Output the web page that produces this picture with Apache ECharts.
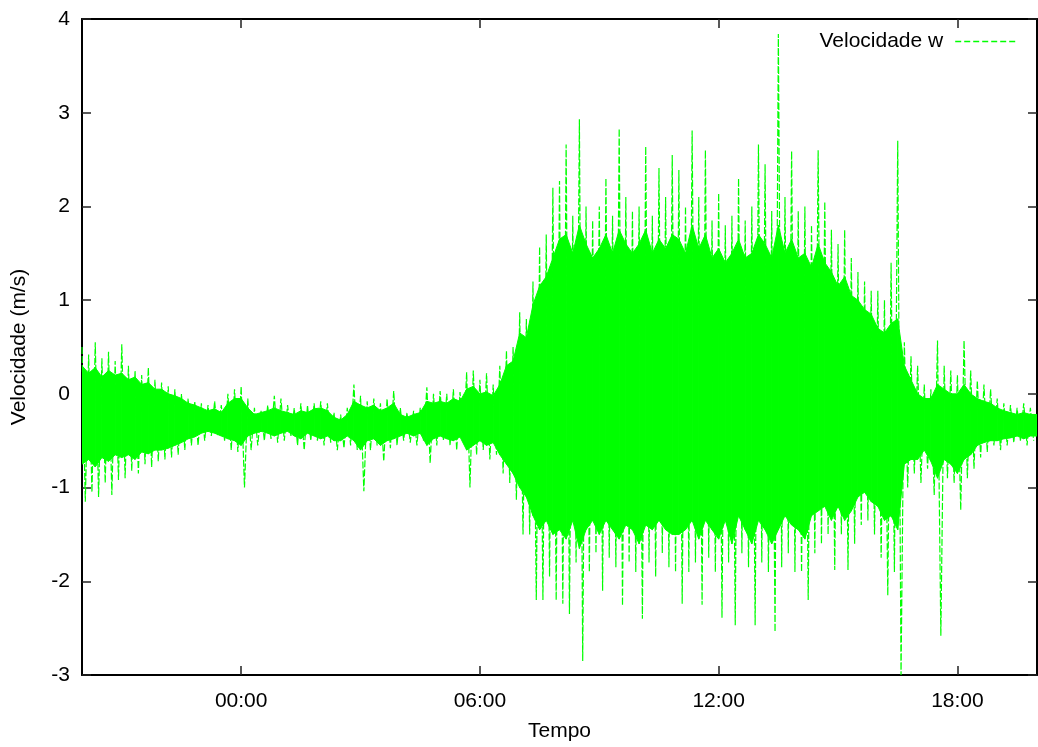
<!DOCTYPE html>
<html>
<head>
<meta charset="utf-8">
<script src="https://cdn.jsdelivr.net/npm/echarts@6/dist/echarts.min.js"></script>
<style>
  html, body { margin: 0; padding: 0; background: #fff; }
  #grafico { width: 1038px; height: 747px; }
</style>
</head>
<body>
<div id="grafico"></div>
<script>
// eixo x em horas desde o inicio da serie (20:00), um valor a cada 10 min
var duracao = 24;
var passo = 10 / 60;

// marcas do eixo x (horas depois do inicio)
var marcasHoras = [4, 10, 16, 22];
var rotulosX = ['00:00', '06:00', '12:00', '18:00'];

// faixa densa (nucleo) do sinal
var nucleoSup = [
  0.3, 0.22, 0.28, 0.18, 0.25, 0.2,
  0.22, 0.15, 0.18, 0.1, 0.12, 0.05,
  0.05, 0.0, -0.02, -0.05, -0.1, -0.12,
  -0.15, -0.18, -0.16, -0.2, -0.1, -0.05,
  -0.05, -0.15, -0.22, -0.2, -0.18, -0.15,
  -0.18, -0.2, -0.22, -0.18, -0.2, -0.16,
  -0.15, -0.18, -0.25, -0.28, -0.22, -0.08,
  -0.12, -0.15, -0.12, -0.18, -0.15, -0.1,
  -0.22, -0.25, -0.22, -0.2, -0.08, -0.1,
  -0.08, -0.1, -0.05, -0.08, 0.05, 0.08,
  0.0, 0.02, -0.02, 0.1, 0.3, 0.35,
  0.65, 0.6, 0.95, 1.15, 1.25, 1.45,
  1.65, 1.7, 1.5, 1.8, 1.6, 1.45,
  1.55, 1.7, 1.5, 1.75, 1.6, 1.5,
  1.6, 1.75, 1.5, 1.65, 1.55, 1.7,
  1.65, 1.5, 1.8, 1.55, 1.7, 1.45,
  1.55, 1.4, 1.5, 1.65, 1.45, 1.5,
  1.7, 1.6, 1.45, 1.8, 1.5, 1.65,
  1.45, 1.5, 1.35, 1.6, 1.4, 1.3,
  1.15, 1.25, 1.05, 1.0, 0.9, 0.85,
  0.7, 0.65, 0.75, 0.8, 0.3, 0.15,
  0.0, -0.05, -0.05, 0.1, 0.05, 0.0,
  0.0, 0.1, 0.0, -0.05, -0.08, -0.1,
  -0.15, -0.18, -0.2, -0.22, -0.2, -0.22];
var nucleoInf = [
  -0.75, -0.7, -0.78, -0.68, -0.72, -0.65,
  -0.68, -0.65, -0.7, -0.62, -0.64, -0.6,
  -0.6, -0.58, -0.55, -0.52, -0.48, -0.46,
  -0.42, -0.4, -0.42, -0.45, -0.48, -0.5,
  -0.55, -0.45, -0.42, -0.4, -0.42, -0.45,
  -0.42, -0.4, -0.45, -0.48, -0.42, -0.45,
  -0.48, -0.45, -0.5, -0.5, -0.45, -0.5,
  -0.6, -0.5, -0.48, -0.55, -0.5, -0.48,
  -0.45, -0.42, -0.45, -0.42, -0.55, -0.48,
  -0.45, -0.48, -0.5, -0.46, -0.6, -0.55,
  -0.5, -0.55, -0.52, -0.65, -0.75, -0.85,
  -1.0, -1.1, -1.3, -1.45, -1.35, -1.5,
  -1.45, -1.55, -1.35, -1.65, -1.45, -1.35,
  -1.5, -1.35, -1.45, -1.55, -1.4, -1.45,
  -1.6, -1.4, -1.45, -1.35, -1.45, -1.5,
  -1.5, -1.45, -1.35, -1.55, -1.35, -1.45,
  -1.55, -1.35, -1.6, -1.3, -1.45, -1.6,
  -1.35, -1.45, -1.6, -1.45, -1.3, -1.4,
  -1.45, -1.55, -1.3, -1.25, -1.2, -1.35,
  -1.2, -1.35, -1.25, -1.1, -1.05, -1.15,
  -1.2, -1.35, -1.3, -1.45, -0.75, -0.7,
  -0.7, -0.6, -0.72, -0.9, -0.7, -0.75,
  -0.85, -0.7, -0.65, -0.55, -0.52, -0.5,
  -0.5, -0.48, -0.47, -0.45, -0.48, -0.45];

// picos maximo e minimo
var picoSup = [
  0.5, 0.42, 0.55, 0.38, 0.45, 0.35,
  0.53, 0.3, 0.25, 0.2, 0.28, 0.15,
  0.12, 0.08, 0.05, 0.0, -0.05, -0.08,
  -0.1, -0.12, -0.08, -0.12, 0.0, 0.05,
  0.08, -0.05, -0.15, -0.18, -0.12, -0.02,
  -0.05, -0.12, -0.15, -0.1, -0.12, -0.1,
  -0.08, -0.1, -0.2, -0.22, -0.15, 0.1,
  -0.02, -0.08, -0.05, -0.1, -0.05, 0.03,
  -0.15, -0.2, -0.18, -0.15, 0.07, 0.0,
  0.03, 0.0, 0.05, 0.02, 0.23, 0.25,
  0.15, 0.22, 0.1, 0.3, 0.46, 0.5,
  0.87, 0.8, 1.2, 1.57, 1.7, 2.2,
  2.27, 2.66, 1.9, 2.93, 2.0, 1.85,
  2.0, 2.3, 1.9, 2.83, 2.1, 1.95,
  2.0, 2.64, 1.9, 2.41, 2.1, 2.55,
  2.39, 2.0, 2.81, 2.1, 2.6, 1.85,
  2.14, 1.8, 1.9, 2.3, 1.85, 2.0,
  2.66, 2.45, 1.95, 3.84, 2.1, 2.59,
  1.95, 2.0, 1.8, 2.6, 2.05, 1.75,
  1.6, 1.75, 1.45, 1.3, 1.2, 1.1,
  1.1, 1.0, 1.4, 2.7, 0.55, 0.4,
  0.3, 0.1, 0.05, 0.57, 0.3, 0.25,
  0.2, 0.57, 0.25, 0.14, 0.1, 0.05,
  -0.05, -0.1, -0.12, -0.15, -0.1, -0.15];
var picoInf = [
  -1.15, -1.05, -1.1, -0.95, -1.08, -0.92,
  -0.9, -0.82, -0.85, -0.75, -0.78, -0.72,
  -0.7, -0.68, -0.65, -0.6, -0.55, -0.55,
  -0.5, -0.45, -0.45, -0.5, -0.6, -0.62,
  -1.0, -0.6, -0.55, -0.5, -0.48, -0.52,
  -0.5, -0.45, -0.55, -0.6, -0.5, -0.5,
  -0.55, -0.52, -0.6, -0.58, -0.55, -0.6,
  -1.04, -0.6, -0.55, -0.72, -0.58, -0.55,
  -0.5, -0.52, -0.55, -0.5, -0.74, -0.55,
  -0.5, -0.55, -0.6, -0.52, -1.0, -0.65,
  -0.6, -0.7, -0.65, -0.85, -0.95, -1.13,
  -1.5, -1.5, -2.2, -2.2, -1.95, -2.2,
  -2.24, -2.35, -1.8, -2.85, -1.9, -1.7,
  -2.1, -1.75, -1.85, -2.26, -1.8, -1.9,
  -2.4, -1.8, -1.95, -1.7, -1.85, -1.9,
  -2.24, -1.9, -1.8, -2.25, -1.75, -1.9,
  -2.39, -1.8, -2.47, -1.7, -1.85, -2.47,
  -1.8, -1.9, -2.54, -1.85, -1.7, -1.9,
  -1.9, -2.2, -1.7, -1.6, -1.5, -1.88,
  -1.5, -1.88, -1.6, -1.4, -1.35, -1.5,
  -1.75, -2.15, -1.9, -3.0, -1.0, -0.85,
  -0.95, -0.8, -1.08, -2.58, -0.9, -0.95,
  -1.24, -0.9, -0.8, -0.68, -0.62, -0.55,
  -0.6, -0.55, -0.52, -0.5, -0.55, -0.5];

var verde = '#00ff00';
var fonte = "'Liberation Sans', Arial, Helvetica, sans-serif";

// faixa do nucleo: um trapezio por intervalo
var faixa = [];
for (var i = 0; i < nucleoSup.length; i++) {
  var k = Math.min(i + 1, nucleoSup.length - 1);
  var tFim = i + 1 < nucleoSup.length ? (i + 1) * passo : duracao;
  faixa.push([i * passo, nucleoSup[i], nucleoInf[i], tFim, nucleoSup[k], nucleoInf[k]]);
}
// sinal em zigue-zague entre os picos
var sinal = [];
for (var j = 0; j < picoSup.length; j++) {
  sinal.push([j * passo, picoSup[j]]);
  sinal.push([j * passo + passo / 2, picoInf[j]]);
}

function eixoX(pos) {
  return {
    type: 'value',
    position: pos,
    min: 0,
    max: duracao,
    axisLine: { show: true, onZero: false, lineStyle: { color: '#000', width: 2 } },
    axisTick: { show: true, inside: true, length: 9, customValues: marcasHoras,
      lineStyle: { color: '#222', width: 1.5 } },
    axisLabel: {
      show: pos === 'bottom',
      customValues: marcasHoras,
      margin: 16,
      fontSize: 21,
      fontFamily: fonte,
      color: '#000',
      formatter: function (v) {
        return rotulosX[marcasHoras.indexOf(v)] || '';
      }
    },
    splitLine: { show: false },
    name: pos === 'bottom' ? 'Tempo' : '',
    nameLocation: 'middle',
    nameGap: 46,
    nameTextStyle: { fontSize: 21, fontFamily: fonte, color: '#000' }
  };
}

function eixoY(pos) {
  return {
    type: 'value',
    position: pos,
    min: -3,
    max: 4,
    interval: 1,
    axisLine: { show: true, onZero: false, lineStyle: { color: '#000', width: 2 } },
    axisTick: { show: true, inside: true, length: 9, lineStyle: { color: '#222', width: 1.5 } },
    axisLabel: {
      show: pos === 'left',
      margin: 12,
      fontSize: 21,
      fontFamily: fonte,
      color: '#000'
    },
    splitLine: { show: false },
    name: pos === 'left' ? 'Velocidade (m/s)' : '',
    nameLocation: 'middle',
    nameGap: 52,
    nameTextStyle: { fontSize: 21, fontFamily: fonte, color: '#000' }
  };
}

var grafico = echarts.init(document.getElementById('grafico'), null, { renderer: 'canvas' });
grafico.setOption({
  animation: false,
  backgroundColor: '#fff',
  grid: { left: 82, right: 1, top: 19, bottom: 63, containLabel: false },
  legend: {
    data: [{ name: 'Velocidade w' }],
    right: 17,
    top: 26,
    align: 'right',
    itemWidth: 60,
    itemHeight: 14,
    itemStyle: { color: 'rgba(0,0,0,0)', borderWidth: 0 },
    lineStyle: { color: verde, width: 1.6, type: [6, 3], opacity: 1 },
    textStyle: { fontSize: 21, fontFamily: fonte, color: '#000', padding: [0, 7, 0, 0] }
  },
  xAxis: [eixoX('bottom'), eixoX('top')],
  yAxis: [eixoY('left'), eixoY('right')],
  series: [
    {
      name: 'nucleo',
      type: 'custom',
      silent: true,
      clip: true,
      encode: { x: [0, 3], y: [1, 2, 4, 5] },
      data: faixa,
      renderItem: function (params, api) {
        var a = api.coord([api.value(0), api.value(1)]);
        var b = api.coord([api.value(3), api.value(4)]);
        var c = api.coord([api.value(3), api.value(5)]);
        var d = api.coord([api.value(0), api.value(2)]);
        return {
          type: 'polygon',
          shape: { points: [a, b, c, d] },
          style: { fill: verde, stroke: verde, lineWidth: 1 }
        };
      }
    },
    {
      name: 'Velocidade w',
      type: 'line',
      symbol: 'none',
      color: verde,
      lineStyle: { width: 1.2, color: verde, type: [7, 2] },
      data: sinal
    }
  ]
});
</script>
</body>
</html>
